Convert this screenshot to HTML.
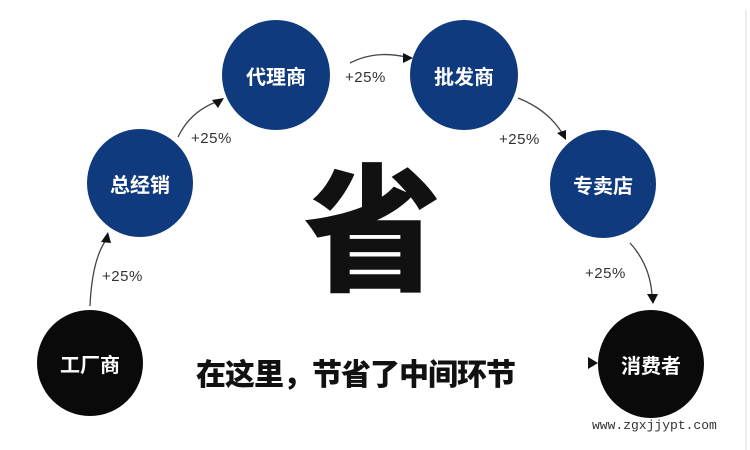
<!DOCTYPE html>
<html><head><meta charset="utf-8"><style>
html,body{margin:0;padding:0;background:#fff;}
#c{position:relative;width:750px;height:450px;overflow:hidden;background:#fff;font-family:"Liberation Sans","Noto Sans CJK SC",sans-serif;}
.n{position:absolute;border-radius:50%;color:#fff;font-weight:bold;font-size:20px;display:flex;align-items:center;justify-content:center;font-family:"Noto Sans CJK SC",sans-serif;}
.b{background:#0f3a7e;}
.k{background:#0a0a0a;}
.l{position:absolute;font-size:15px;color:#333;letter-spacing:0.5px;}
</style></head><body><div id="c">
<div style="position:absolute;left:745px;top:10px;width:2px;height:440px;background:#eee"></div>
<div class="n k" style="left:37px;top:310px;width:106px;height:106px">工厂商</div>
<div class="n b" style="left:87px;top:129px;width:106px;height:108px">总经销</div>
<div class="n b" style="left:222px;top:20px;width:108px;height:110px">代理商</div>
<div class="n b" style="left:410px;top:20px;width:108px;height:110px">批发商</div>
<div class="n b" style="left:550px;top:130px;width:106px;height:108px">专卖店</div>
<div class="n k" style="left:598px;top:310px;width:106px;height:108px">消费者</div>
<svg width="750" height="450" style="position:absolute;left:0;top:0">
<g fill="none" stroke="#444" stroke-width="1.3">
<path d="M90 306 Q92 260 106 240"/>
<path d="M178 137 Q190 112 216 102"/>
<path d="M350 63 Q375 50 406 57"/>
<path d="M518 98 Q548 110 562 133"/>
<path d="M630 243 Q650 265 652 295"/>
</g>
<g fill="#111">
<polygon points="108,232 101,242 111,243"/>
<polygon points="224,98 212,100 218,108"/>
<polygon points="413,58 403,53 403,63"/>
<polygon points="566,140 557,133 566,130"/>
<polygon points="653,304 647,294 658,294"/>
<polygon points="598,363 588,357 588,369"/>
</g>
</svg>
<div class="l" style="left:102px;top:268px">+25%</div>
<div class="l" style="left:191px;top:130px">+25%</div>
<div class="l" style="left:345px;top:69px">+25%</div>
<div class="l" style="left:499px;top:131px">+25%</div>
<div class="l" style="left:585px;top:265px">+25%</div>
<div style="position:absolute;left:300px;top:140px;width:145px;text-align:center;font-size:138px;line-height:160px;font-weight:900;color:#111;font-family:'Noto Sans CJK SC',sans-serif;">省</div>
<div style="position:absolute;left:196px;top:352px;font-size:30px;font-weight:900;color:#111;letter-spacing:-1px;font-family:'Noto Sans CJK SC',sans-serif;line-height:40px">在这里，节省了中间环节</div>
<div style="position:absolute;left:592px;top:418px;font-family:'Liberation Mono',monospace;font-size:13px;color:#333">www.zgxjjypt.com</div>
</div></body></html>
